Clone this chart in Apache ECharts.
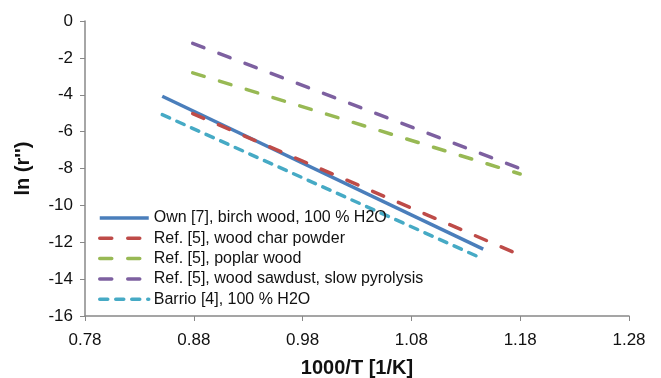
<!DOCTYPE html>
<html><head><meta charset="utf-8">
<script src="https://cdn.jsdelivr.net/npm/echarts@6/dist/echarts.min.js"></script>
<style>html,body{margin:0;padding:0;background:#fff}#c{width:661px;height:378px}</style>
</head><body><div id="c"></div>
<script>
const seriesNames = [
  "Own [7], birch wood, 100 % H2O",
  "Ref. [5], wood char powder",
  "Ref. [5], poplar wood",
  "Ref. [5], wood sawdust, slow pyrolysis",
  "Barrio [4], 100 % H2O"
];
const xTicks = [0.78, 0.88, 0.98, 1.08, 1.18, 1.28];
const ownX = [0.851, 1.146];
const ownY = [-4.08, -12.37];
const charX = [0.879, 1.177];
const charY = [-5.02, -12.62];
const poplarX = [0.879, 1.180];
const poplarY = [-2.81, -8.30];
const sawdustX = [0.879, 1.181];
const sawdustY = [-1.21, -8.03];
const barrioX = [0.851, 1.143];
const barrioY = [-5.08, -12.83];

const colors = ['#4a7ebb', '#be4b48', '#98b954', '#7d60a0', '#46aac5'];
const dashes = [null, [12, 16], [12, 16], [12, 16], [8, 8]];
const widths = [3.5, 3.5, 3.5, 3.5, 3.5];
const xs = [ownX, charX, poplarX, sawdustX, barrioX];
const ys = [ownY, charY, poplarY, sawdustY, barrioY];

const series = seriesNames.map((n, i) => ({
  name: n, type: 'line', symbol: 'none', showSymbol: false,
  data: xs[i].map((x, j) => [x, ys[i][j]]),
  lineStyle: {color: colors[i], width: widths[i], type: dashes[i] ? dashes[i] : 'solid', cap: dashes[i] ? 'round' : 'butt'},
  itemStyle: {color: colors[i]},
  z: i === 0 ? 1 : 2
}));

const ff = 'Liberation Sans, Arial, sans-serif';
const chart = echarts.init(document.getElementById('c'));
chart.setOption({
  animation: false,
  textStyle: {fontFamily: ff},
  grid: {left: 85, right: 32, top: 21, bottom: 62, containLabel: false, outerBoundsMode: 'none'},
  legend: {
    orient: 'vertical', left: 93, top: 205,
    itemWidth: 49, itemHeight: 16, itemGap: 4.3,
    itemStyle: {opacity: 0},
    lineStyle: {width: 3.5},
    textStyle: {fontSize: 16, color: '#111', fontFamily: ff},
    data: seriesNames
  },
  xAxis: {
    type: 'value', min: xTicks[0], max: xTicks[xTicks.length - 1], interval: 0.1,
    name: '1000/T [1/K]', nameLocation: 'middle', nameGap: 42,
    nameTextStyle: {fontSize: 20, fontWeight: 'bold', color: '#111', fontFamily: ff},
    axisLine: {onZero: false, lineStyle: {color: '#888', width: 1.5}},
    axisTick: {show: true, length: 5, lineStyle: {color: '#888'}},
    axisLabel: {fontSize: 17, color: '#111', margin: 16, formatter: v => v.toFixed(2)},
    splitLine: {show: false}
  },
  yAxis: {
    type: 'value', min: -16, max: 0, interval: 2,
    name: "ln (r'')", nameLocation: 'middle', nameGap: 52, nameRotate: 90,
    nameTextStyle: {fontSize: 20, fontWeight: 'bold', color: '#111', fontFamily: ff},
    axisLine: {show: true, onZero: false, lineStyle: {color: '#888', width: 1.5}},
    axisTick: {show: true, length: 5, lineStyle: {color: '#888'}},
    axisLabel: {fontSize: 17, color: '#111', margin: 12},
    splitLine: {show: false}
  },
  series: series
});
</script></body></html>
